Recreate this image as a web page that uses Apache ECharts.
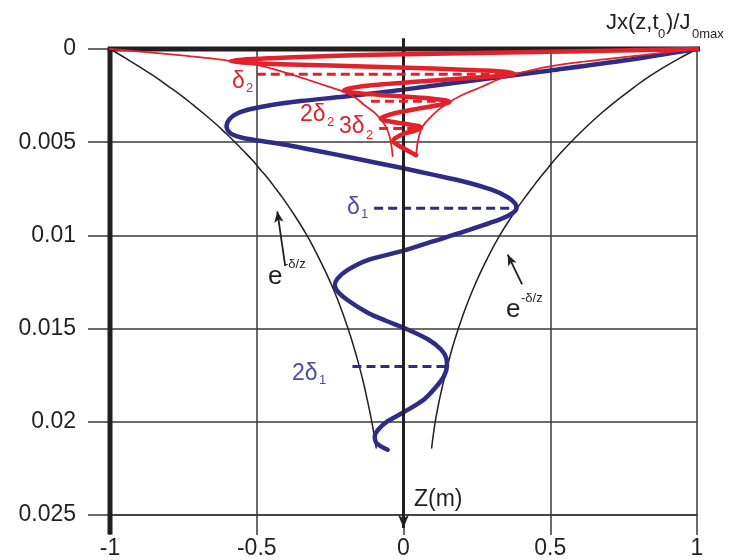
<!DOCTYPE html>
<html>
<head>
<meta charset="utf-8">
<script src="https://cdn.jsdelivr.net/npm/echarts@6/dist/echarts.min.js"></script>
<style>html,body{margin:0;padding:0;background:#fff}#c{width:737px;height:560px}</style>
</head>
<body>
<div id="c"></div>
<script>
// ---- axis definitions ----
const xMin = -1, xMax = 1, xStep = 0.5;
const zMin = 0, zMax = 0.025, zStep = 0.005;
const xTickLabels = ['-1', '-0.5', '0', '0.5', '1'];
const zTickLabels = ['0', '0.005', '0.01', '0.015', '0.02', '0.025'];

// ---- curves: [Jx/J0max, z (m)] ----
const blueCurve = [
  [1.0, 0.0], [0.75, 0.00062], [0.5, 0.00115], [0.25, 0.00166], [0.0, 0.00218],
  [-0.2, 0.00255], [-0.35, 0.00279], [-0.45, 0.00300], [-0.52, 0.00322], [-0.565, 0.00345],
  [-0.592, 0.00375], [-0.603, 0.00415], [-0.59, 0.00452], [-0.55, 0.00476], [-0.49, 0.00492],
  [-0.38, 0.00520], [-0.25, 0.00560], [-0.11, 0.00605], [0.0, 0.0064], [0.1, 0.00674],
  [0.208, 0.00712], [0.30, 0.00755], [0.355, 0.00795], [0.38, 0.00828], [0.385, 0.00854],
  [0.37, 0.00882], [0.335, 0.00910], [0.208, 0.00979], [0.1, 0.01032], [0.0, 0.01082],
  [-0.122, 0.01132], [-0.19, 0.01185], [-0.225, 0.01232], [-0.234, 0.01268], [-0.222, 0.01305],
  [-0.19, 0.01348], [-0.122, 0.01415], [-0.06, 0.01458], [0.0, 0.01495], [0.083, 0.01557],
  [0.128, 0.01612], [0.146, 0.01660], [0.148, 0.01700], [0.138, 0.01755], [0.11, 0.01815],
  [0.07, 0.01880], [0.0, 0.01949], [-0.055, 0.01998], [-0.085, 0.02040], [-0.098, 0.02078],
  [-0.094, 0.02110], [-0.077, 0.02132], [-0.054, 0.02150]
];
const redCurve = [
  [1.0, 0.0], [0.6, 0.00012], [0.2, 0.00023], [-0.1, 0.00031], [-0.3, 0.00040],
  [-0.45, 0.00049], [-0.55, 0.00057], [-0.59, 0.00065], [-0.55, 0.00072], [-0.45, 0.00080],
  [-0.25, 0.00089], [0.1, 0.00105], [0.27, 0.00115], [0.35, 0.00123], [0.379, 0.00134],
  [0.34, 0.00144], [0.265, 0.00152], [0.09, 0.00170], [-0.1, 0.00193], [-0.18, 0.00210],
  [-0.203, 0.00222], [-0.17, 0.00234], [-0.05, 0.00250], [0.09, 0.00265], [0.145, 0.00276],
  [0.157, 0.00285], [0.13, 0.00298], [0.05, 0.00320], [-0.03, 0.00345], [-0.07, 0.00365],
  [-0.077, 0.00375], [-0.05, 0.00388], [0.02, 0.00405], [0.055, 0.00415], [0.060, 0.00423],
  [0.04, 0.00438], [0.0, 0.00455], [-0.03, 0.00480], [-0.035, 0.00495], [-0.02, 0.00515],
  [0.02, 0.00550], [0.043, 0.00570]
];
const redEnvLeft = [
  [-1.0, 0.0], [-0.8, 0.00028], [-0.65, 0.00052], [-0.5, 0.00085], [-0.4, 0.00128],
  [-0.32, 0.00168], [-0.25, 0.00205], [-0.2, 0.00232], [-0.16, 0.00265], [-0.134, 0.00300],
  [-0.1, 0.00340], [-0.077, 0.00378], [-0.06, 0.00418], [-0.049, 0.00460], [-0.042, 0.00510],
  [-0.037, 0.00574]
];
const redEnvRight = [
  [1.0, 0.0], [0.8, 0.00035], [0.6, 0.00070], [0.504, 0.00092], [0.437, 0.00113],
  [0.379, 0.00135], [0.32, 0.00165], [0.265, 0.00204], [0.2, 0.00247], [0.157, 0.00284],
  [0.12, 0.00325], [0.094, 0.00364], [0.072, 0.00400], [0.06, 0.00430], [0.051, 0.00480],
  [0.046, 0.00525], [0.043, 0.00570]
];
const blackEnvLeft = [
  [-1.0, 0.0], [-0.946, 0.0005], [-0.895, 0.001], [-0.846, 0.0015], [-0.801, 0.002],
  [-0.757, 0.0025], [-0.717, 0.003], [-0.678, 0.0035], [-0.641, 0.004], [-0.607, 0.0045],
  [-0.574, 0.005], [-0.543, 0.0055], [-0.513, 0.006], [-0.486, 0.0065], [-0.459, 0.007],
  [-0.435, 0.0075], [-0.411, 0.008], [-0.368, 0.009], [-0.329, 0.010], [-0.295, 0.011],
  [-0.264, 0.012], [-0.236, 0.013], [-0.211, 0.014], [-0.189, 0.015], [-0.169, 0.016],
  [-0.151, 0.017], [-0.135, 0.018], [-0.121, 0.019], [-0.108, 0.020], [-0.097, 0.021],
  [-0.093, 0.0214]
];
const blackEnvRight = [
  [1.0, 0.0], [0.94, 0.0005], [0.885, 0.001], [0.835, 0.0015], [0.79, 0.002],
  [0.748, 0.0025], [0.708, 0.003], [0.670, 0.0035], [0.635, 0.004], [0.602, 0.0045],
  [0.570, 0.005], [0.540, 0.0055], [0.512, 0.006], [0.486, 0.0065], [0.460, 0.007],
  [0.436, 0.0075], [0.412, 0.008], [0.368, 0.009], [0.328, 0.010], [0.293, 0.011],
  [0.262, 0.012], [0.234, 0.013], [0.209, 0.014], [0.187, 0.015], [0.167, 0.016],
  [0.150, 0.017], [0.134, 0.018], [0.120, 0.019], [0.108, 0.020], [0.099, 0.021],
  [0.096, 0.0214]
];
// dashed depth markers: [xStart, xEnd, z]
const redDepthMarks = [[-0.5, 0.379, 0.00136], [-0.111, 0.157, 0.0028], [-0.083, 0.06, 0.00427]];
const blueDepthMarks = [[-0.1, 0.385, 0.00854], [-0.174, 0.145, 0.01703]];
// annotation arrows: [xTail, zTail, xTip, zTip]
const envArrows = [[-0.403, 0.01165, -0.430, 0.00871], [0.404, 0.01263, 0.355, 0.01103]];

const RED = '#e3212b', BLUE = '#2e2c86', BLUE_TXT = '#4d4c9e', INK = '#231f20', GRID = '#3a3a3a';
const FONT = 'Liberation Sans, Arial, sans-serif';

function curve(data, color, width, z, sm) {
  return { type: 'line', data, symbol: 'none', showSymbol: false, smooth: sm || 0.3, clip: false,
    lineStyle: { color, width, cap: 'round', join: 'round' }, z, silent: true, animation: false };
}
function seg(p, q, color, width, z, type) {
  return { type: 'line', data: [p, q], symbol: 'none', showSymbol: false, clip: false,
    lineStyle: { color, width, type: type || 'solid' }, z, silent: true, animation: false };
}

const series = [];
series.push(curve(blackEnvLeft, INK, 1.5, 2, 0.4));
series.push(curve(blackEnvRight, INK, 1.5, 2, 0.4));
series.push(curve(blueCurve, BLUE, 4.5, 3));
blueDepthMarks.forEach(m => series.push(seg([m[0], m[2]], [m[1], m[2]], BLUE, 3, 3, [9, 5])));
// frame: thick left axis and top axis, with extensions past the grid
const zExt = zMax + 0.00105;
series.push(seg([xMin, zMin], [xMin, zExt], INK, 5, 4));
series.push(seg([xMin - 0.008, zMin], [xMax + 0.14, zMin], INK, 5, 4));
// vertical x = 0 axis with downward arrow
series.push({ type: 'line', clip: false, silent: true, animation: false, z: 4, showSymbol: true,
  data: [ { value: [0, -0.00058], symbol: 'none' },
          { value: [0, zMax + 0.0007], symbol: 'arrow', symbolSize: [8, 13], symbolRotate: 180 } ],
  itemStyle: { color: INK }, lineStyle: { color: INK, width: 3 } });
// annotation arrows
series.push({ type: 'line', data: [[0, 0.01]], symbol: 'none', clip: false, lineStyle: { opacity: 0 }, z: 4,
  silent: true, animation: false,
  markLine: { silent: true, animation: false, label: { show: false }, symbol: ['none', 'arrow'],
    data: envArrows.map(a => [{ coord: [a[0], a[1]], symbol: 'none' },
      { coord: [a[2], a[3]], symbol: 'arrow', symbolSize: [7, 11] }]),
    lineStyle: { color: INK, width: 1.8, type: 'solid' } } });
series.push(curve(redEnvLeft, RED, 1.8, 5));
series.push(curve(redEnvRight, RED, 1.8, 5));
redDepthMarks.forEach(m => series.push(seg([m[0], m[2]], [m[1], m[2]], RED, 3, 5, [9, 5])));
series.push(curve(redCurve, RED, 4.5, 6));

function txt(x, y, s, size, color, extra) {
  return Object.assign({ type: 'text', left: x, top: y, silent: true, z: 100,
    style: { text: s, fontSize: size, fontFamily: FONT, fill: color } }, extra || {});
}
const graphics = [
  txt(606, 12, 'Jx(z,t', 22, INK), txt(658, 28, '0', 13, INK), txt(666, 12, ')/J', 22, INK), txt(692, 28, '0max', 13, INK),
  txt(414, 488, 'Z(m)', 23, INK),
  txt(232, 70, 'δ', 23, RED), txt(246, 82, '2', 13, RED),
  txt(300, 103, '2δ', 23, RED), txt(327, 116, '2', 13, RED),
  txt(339, 115, '3δ', 23, RED), txt(366, 129, '2', 13, RED),
  txt(347, 196, 'δ', 23, BLUE_TXT), txt(361, 208, '1', 13, BLUE_TXT),
  txt(292, 362, '2δ', 23, BLUE_TXT), txt(319, 374, '1', 13, BLUE_TXT),
  txt(268, 264, 'e', 26, INK), txt(284, 258, '-δ/z', 13, INK),
  txt(506, 297, 'e', 26, INK), txt(521, 292, '-δ/z', 13, INK)
];

const chart = echarts.init(document.getElementById('c'), null, { renderer: 'canvas' });
chart.setOption({
  animation: false,
  backgroundColor: '#fff',
  grid: { left: 110, right: 40, top: 49, bottom: 44 },
  xAxis: {
    type: 'value', min: xMin, max: xMax, interval: xStep, position: 'bottom',
    axisLine: { show: true, onZero: false, lineStyle: { color: GRID, width: 1.5 } },
    axisTick: { show: true, length: 20, lineStyle: { color: GRID, width: 1.5 } },
    splitLine: { show: true, lineStyle: { color: GRID, width: 1.5 } },
    axisLabel: { margin: 22, fontSize: 23, fontFamily: FONT, color: INK,
      formatter: v => xTickLabels[Math.round((v - xMin) / xStep)] }
  },
  yAxis: {
    type: 'value', inverse: true, min: zMin, max: zMax, interval: zStep,
    axisLine: { show: false, onZero: false },
    axisTick: { show: true, length: 22, lineStyle: { color: GRID, width: 1.5 } },
    splitLine: { show: true, lineStyle: { color: GRID, width: 1.5 } },
    axisLabel: { margin: 34, fontSize: 23, fontFamily: FONT, color: INK,
      formatter: v => zTickLabels[Math.round((v - zMin) / zStep)] }
  },
  series,
  graphic: graphics
});
</script>
</body>
</html>
